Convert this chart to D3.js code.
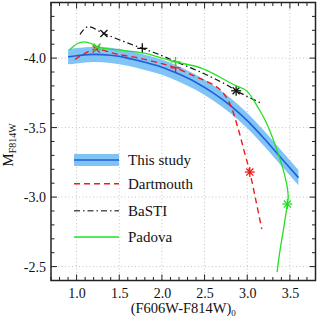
<!DOCTYPE html>
<html>
<head>
<meta charset="utf-8">
<script src="https://cdn.jsdelivr.net/npm/d3@7"></script>
<style>
  body { margin: 0; background: #fff; }
  svg, svg text { font-family: "Liberation Serif", "Times New Roman", Tinos, "DejaVu Serif", serif; }
</style>
</head>
<body>
<div id="chart"></div>
<script>
// "This study" relation
const studyX = [0.9, 1.0, 1.2, 1.4, 1.6, 1.8, 2.0, 2.2, 2.4, 2.6, 2.8, 3.0, 3.2, 3.4, 3.6];
const studyY = [-4.01, -4.017, -4.027, -4.02, -4.0, -3.97, -3.935, -3.885, -3.825, -3.75, -3.66, -3.55, -3.42, -3.28, -3.14];
const studyErr = 0.055;

// Dartmouth
const dartX = [0.98, 1.1, 1.23, 1.46, 1.73, 2.0, 2.16, 2.4, 2.53, 2.67, 2.79, 2.885, 2.96, 3.03, 3.1, 3.17];
const dartY = [-3.99, -4.035, -4.065, -4.03, -4.0, -3.96, -3.93, -3.865, -3.83, -3.78, -3.68, -3.51, -3.34, -3.18, -2.98, -2.77];
const dartMarkX = [1.23, 2.16, 3.03];
const dartMarkY = [-4.065, -3.93, -3.18];

// BaSTI
const bastiX = [1.04, 1.13, 1.32, 1.55, 1.77, 1.99, 2.16, 2.47, 2.75, 2.87, 3.18];
const bastiY = [-4.17, -4.225, -4.177, -4.12, -4.07, -4.02, -3.975, -3.895, -3.81, -3.765, -3.67];
const bastiMarkX = [1.32, 1.77, 2.87];
const bastiMarkY = [-4.177, -4.07, -3.765];

// Padova
const padX = [0.92, 1.01, 1.09, 1.17, 1.24, 1.52, 1.79, 1.97, 2.16, 2.47, 2.87, 2.99, 3.14, 3.22, 3.37, 3.46, 3.48, 3.47, 3.42, 3.38, 3.35];
const padY = [-4.06, -4.105, -4.117, -4.105, -4.08, -4.057, -4.035, -4.005, -3.973, -3.926, -3.80, -3.766, -3.63, -3.54, -3.30, -3.10, -3.00, -2.95, -2.75, -2.60, -2.46];
const padMarkX = [1.24, 2.16, 3.47];
const padMarkY = [-4.08, -3.973, -2.95];

const xTicks = [1.0, 1.5, 2.0, 2.5, 3.0, 3.5];
const yTicks = [-4.0, -3.5, -3.0, -2.5];
const legendLabels = ["This study", "Dartmouth", "BaSTI", "Padova"];

const serif = '"Liberation Serif", "Times New Roman", Tinos, "DejaVu Serif", serif';
const W = 319, H = 319;
const margin = {top: 2.5, right: 3.5, bottom: 38.5, left: 51};
const width = W - margin.left - margin.right;
const height = H - margin.top - margin.bottom;

const svg = d3.select("#chart").append("svg")
    .attr("width", W)
    .attr("height", H)
    .style("font-family", serif);
const g = svg.append("g")
    .attr("transform", `translate(${margin.left},${margin.top})`);

const x = d3.scaleLinear().domain([0.7, 3.8]).range([0, width]);
const y = d3.scaleLinear().domain([-4.4, -2.4]).range([0, height]);

const zip = (xs, ys) => xs.map((v, i) => [v, ys[i]]);

// grid
g.selectAll(".vgrid").data(xTicks).enter().append("line")
    .attr("x1", d => x(d)).attr("x2", d => x(d))
    .attr("y1", 0).attr("y2", height)
    .attr("stroke", "#c4c4c4").attr("stroke-width", 1)
    .attr("stroke-dasharray", "1,2.5");
g.selectAll(".hgrid").data(yTicks).enter().append("line")
    .attr("y1", d => y(d)).attr("y2", d => y(d))
    .attr("x1", 0).attr("x2", width)
    .attr("stroke", "#c4c4c4").attr("stroke-width", 1)
    .attr("stroke-dasharray", "1,2.5");

// band + line for this study
const studyPts = zip(studyX, studyY);
g.append("path")
    .datum(studyPts)
    .attr("fill", "#80c4f6")
    .attr("d", d3.area()
        .x(d => x(d[0]))
        .y0(d => y(d[1] - studyErr))
        .y1(d => y(d[1] + studyErr))
        .curve(d3.curveMonotoneX));
g.append("path")
    .datum(studyPts)
    .attr("fill", "none")
    .attr("stroke", "#1f5fdc")
    .attr("stroke-width", 1.6)
    .attr("d", d3.line().x(d => x(d[0])).y(d => y(d[1])).curve(d3.curveMonotoneX));

const line = d3.line().x(d => x(d[0])).y(d => y(d[1])).curve(d3.curveCatmullRom.alpha(0.5));

// markers: x, +, asterisk
function marker(sel, kind, cx, cy, color) {
    const r = 5;
    let angles = kind == 0 ? [45, 135] : kind == 1 ? [0, 90] : [0, 45, 90, 135];
    angles.forEach(a => {
        const rad = a * Math.PI / 180;
        sel.append("line")
            .attr("x1", cx - r * Math.cos(rad)).attr("y1", cy - r * Math.sin(rad))
            .attr("x2", cx + r * Math.cos(rad)).attr("y2", cy + r * Math.sin(rad))
            .attr("stroke", color).attr("stroke-width", 1.3);
    });
}

const models = [
    {xs: dartX, ys: dartY, mx: dartMarkX, my: dartMarkY, color: "#ee1c1c", dash: "6,4", w: 1.4},
    {xs: bastiX, ys: bastiY, mx: bastiMarkX, my: bastiMarkY, color: "#111", dash: "6,3,1.5,3", w: 1.2},
    {xs: padX, ys: padY, mx: padMarkX, my: padMarkY, color: "#22e022", dash: null, w: 1.3}
];

models.forEach(m => {
    g.append("path")
        .datum(zip(m.xs, m.ys))
        .attr("fill", "none")
        .attr("stroke", m.color)
        .attr("stroke-width", m.w)
        .attr("stroke-dasharray", m.dash)
        .attr("d", line);
    m.mx.forEach((v, i) => marker(g, i, x(v), y(m.my[i]), m.color));
});

// legend
const legX0 = 74 - margin.left, legX1 = 119 - margin.left, legTextX = 128 - margin.left;
const legY = [160, 183.7, 210.7, 237].map(v => v - margin.top);
const leg = g.append("g");
leg.append("rect")
    .attr("x", legX0).attr("y", legY[0] - 6)
    .attr("width", legX1 - legX0).attr("height", 12)
    .attr("fill", "#80c4f6");
leg.append("line")
    .attr("x1", legX0).attr("x2", legX1).attr("y1", legY[0]).attr("y2", legY[0])
    .attr("stroke", "#1f5fdc").attr("stroke-width", 1.6);
models.forEach((m, i) => {
    leg.append("line")
        .attr("x1", legX0).attr("x2", legX1)
        .attr("y1", legY[i + 1]).attr("y2", legY[i + 1])
        .attr("stroke", i == 1 ? "#555" : m.color)
        .attr("stroke-width", m.w + 0.2)
        .attr("stroke-dasharray", m.dash);
});
leg.selectAll("text").data(legendLabels).enter().append("text")
    .attr("x", legTextX)
    .attr("y", (d, i) => legY[i] + 5)
    .attr("font-family", serif)
    .attr("font-size", 15)
    .attr("fill", "#111")
    .text(d => d);

// frame
g.append("rect")
    .attr("width", width).attr("height", height)
    .attr("fill", "none").attr("stroke", "#222").attr("stroke-width", 1.5);

// ticks on all sides (inward)
const xMinor = d3.range(7, 39).map(v => v / 10);
const yMinor = d3.range(-44, -23).map(v => v / 10);
const isMajor = v => Math.abs(v * 2 - Math.round(v * 2)) < 1e-6;
const tickG = g.append("g").attr("stroke", "#222").attr("stroke-width", 1);
xMinor.forEach(v => {
    const len = isMajor(v) ? 6 : 3.5;
    tickG.append("line").attr("x1", x(v)).attr("x2", x(v)).attr("y1", height).attr("y2", height - len);
    tickG.append("line").attr("x1", x(v)).attr("x2", x(v)).attr("y1", 0).attr("y2", len);
});
yMinor.forEach(v => {
    const len = isMajor(v) ? 6 : 3.5;
    tickG.append("line").attr("y1", y(v)).attr("y2", y(v)).attr("x1", 0).attr("x2", len);
    tickG.append("line").attr("y1", y(v)).attr("y2", y(v)).attr("x1", width).attr("x2", width - len);
});

// tick labels via axes (lines hidden)
const xAxis = g.append("g")
    .attr("transform", `translate(0,${height})`)
    .call(d3.axisBottom(x).tickValues(xTicks).tickFormat(d3.format(".1f")).tickSize(0).tickPadding(8));
const yAxis = g.append("g")
    .call(d3.axisLeft(y).tickValues(yTicks).tickFormat(d => d.toFixed(1)).tickSize(0).tickPadding(5));
[xAxis, yAxis].forEach(a => {
    a.attr("font-family", serif);
    a.select(".domain").remove();
    a.selectAll("text")
        .attr("font-family", serif)
        .attr("font-size", 14)
        .attr("fill", "#111");
});

// axis titles
const xt = svg.append("text")
    .attr("x", margin.left + width / 2)
    .attr("y", 313)
    .attr("text-anchor", "middle")
    .attr("font-family", serif)
    .attr("font-size", 14.5)
    .attr("fill", "#111");
xt.append("tspan").text("(F606W-F814W)");
xt.append("tspan").attr("font-size", 9).attr("dy", 3).text("0");

const yt = svg.append("text")
    .attr("transform", "translate(13,145) rotate(-90)")
    .attr("text-anchor", "middle")
    .attr("font-family", serif)
    .attr("font-size", 15)
    .attr("fill", "#111");
yt.append("tspan").text("M");
yt.append("tspan").attr("font-size", 10).attr("dy", 3).text("F814W");
</script>
</body>
</html>
